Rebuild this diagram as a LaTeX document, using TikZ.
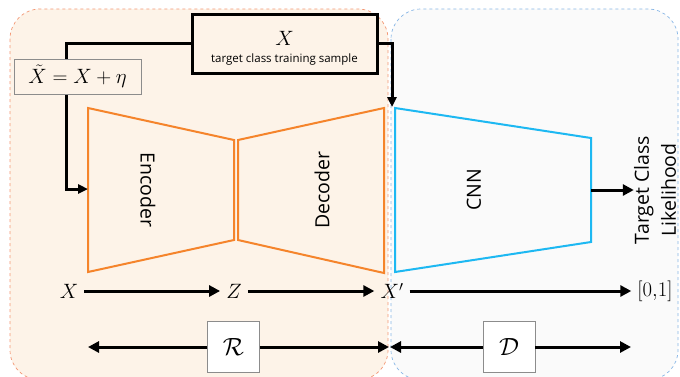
\documentclass[tikz,border=0pt]{standalone}
\usepackage{fontspec}
\setsansfont{Open Sans}
\usepackage{tikz}
\usetikzlibrary{arrows.meta,positioning,calc}
\definecolor{orangeline}{RGB}{245, 132, 43}
\definecolor{blueline}{RGB}{29, 184, 242}
\definecolor{orangefill}{RGB}{253, 243, 232}
\definecolor{orangedash}{RGB}{243, 150, 115}
\definecolor{bluefill}{RGB}{250, 250, 250}
\definecolor{bluedash}{RGB}{135, 182, 230}
\tikzstyle{region} = [rounded corners=30pt, dashed, line width=0.7pt]
\tikzstyle{coder} = [draw=orangeline, line width=2pt, line join=miter]
\tikzstyle{net} = [draw=blueline, line width=2pt, line join=miter]
\tikzstyle{word} = [font=\sffamily\fontsize{19.5}{27}\selectfont, align=center, inner sep=0pt]
\tikzstyle{sym} = [font=\fontsize{22}{26}\selectfont, inner sep=6pt]
\tikzstyle{tagbox} = [draw=black!45, line width=0.8pt, fill=white, minimum width=52pt, minimum height=51pt, font=\fontsize{28}{32}\selectfont]
\tikzstyle{flow}  = [draw, line width=3pt, >={Triangle[length=11pt,width=11pt]}, ->]
\tikzstyle{feed}  = [draw, line width=3pt, >={Triangle[length=10pt,width=9pt]}, ->]

\begin{document}
\begin{tikzpicture}[x=1pt,y=-1pt]
\useasboundingbox (0,0) rectangle (680,376);

% regions =============================
\draw[region, fill=orangefill, draw=orangedash] (10,9) rectangle (388,380);
\draw[region, fill=bluefill, draw=bluedash] (391,9) rectangle (678,380);

% auto-encoder and classifier
\draw[coder] (88,108) -- (234,140) -- (234,240) -- (88,272) -- cycle;
\draw[coder] (238,140) -- (384,108) -- (384,273) -- (238,240) -- cycle;
\draw[net] (395,108) -- (591,138) -- (591,242) -- (395,272) -- cycle;
\coordinate (enc-in) at (88,189);
\coordinate (cnn-in) at (392,107);
\coordinate (cnn-out) at (591,190);

\node[word, rotate=-90] (enc) at (148,190) {Encoder};
\node[word, rotate=90] (dec) at (322,190) {Decoder};
\node[word, rotate=90] (cnn) at (474,190) {CNN};
\node[word, rotate=90] (tcl) at (655,190) {Target Class\\Likelihood};

% training sample
\node[draw, line width=3pt, fill=orangefill, minimum width=185pt, minimum height=59pt] (xbox) at (284.5,43.5) {};
\node[sym, inner sep=0pt] (xsym) at (284.5,38) {$X$};
\node[font=\sffamily\fontsize{11.5}{14}\selectfont, inner sep=0pt] (xtxt) at (284.5,60) {target class training sample};

% edges
\path[feed] (xbox.west) -| ($(enc-in)+(-22,0)$) -- (enc-in);
\path[feed] (xbox.east) -| (cnn-in);
\path[flow] (cnn-out) -- (tcl.north);

\node[draw=black!45, line width=0.8pt, fill=orangefill, minimum width=127pt, minimum height=35pt, font=\fontsize{21}{24}\selectfont, inner sep=0pt] (noisy) at (77.5,76.5) {$\tilde{X} = X + \eta$};

% data flow
\node[sym] (lx) at (69,291) {$X$};
\node[sym] (lz) at (234,291) {$Z$};
\node[sym] (lxp) at (392,291) {$X'$};
\node[sym] (lout) at (655,291) {$[0{,}1]$};
\path[flow] (lx) -- (lz);
\path[flow] (lz) -- (lxp);
\path[flow] (lxp) -- (lout);

% spans
\coordinate (r-left) at (88,347);
\coordinate (r-right) at (389,347);
\coordinate (d-left) at (390,347);
\coordinate (d-right) at (631,347);
\node[tagbox] (rbox) at (233.5,347) {$\mathcal{R}$};
\node[tagbox] (dbox) at (509,347) {$\mathcal{D}$};
\path[flow] (rbox.west) -- (r-left);
\path[flow] (rbox.east) -- (r-right);
\path[flow] (dbox.west) -- (d-left);
\path[flow] (dbox.east) -- (d-right);

\end{tikzpicture}
\end{document}
